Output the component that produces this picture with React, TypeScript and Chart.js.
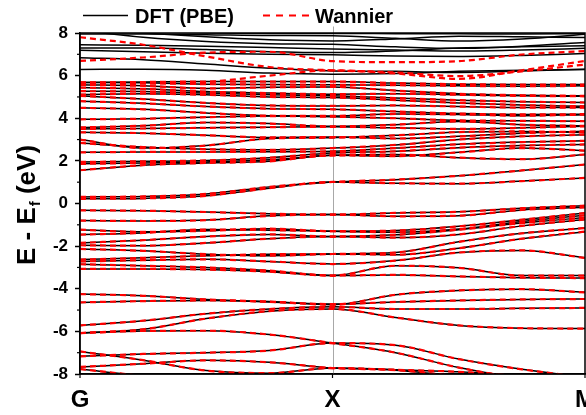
import React, { useEffect, useRef } from 'react';
import { Chart, registerables } from 'chart.js';

Chart.register(...registerables);

const FONT = "'Liberation Sans', Arial, Helvetica, sans-serif";

// k-path positions (G -> X -> M), fractional distance
const kPath = [0, 0.125, 0.25, 0.375, 0.5, 0.625, 0.75, 0.875, 1];
const kLabels = ['G', 'X', 'M'];
const kLabelPos = [0, 0.5, 1];
const legendLabels = ['DFT (PBE)', 'Wannier'];
const yMin = -8;
const yMax = 8;
const yStep = 2;
const yMinorTicks = [-7, -5, -3, -1, 1, 3, 5, 7];

// Energies (eV) at each kPath point — bands reproduced by both DFT and Wannier
const coreBands = [
  [-7.77, -8.1, -8.5, -8.8, -8.9, -8.9, -8.9, -8.9, -8.9],
  [-7.67, -7.52, -7.36, -7.45, -7.72, -7.82, -8.1, -8.4, -8.6],
  [-6.94, -7.35, -7.84, -7.96, -7.72, -7.8, -7.9, -8.1, -8.3],
  [-7.17, -7.06, -7.0, -6.9, -6.55, -6.65, -7.3, -7.78, -8.15],
  [-6.08, -5.98, -5.97, -6.15, -6.55, -7.0, -7.7, -8.2, -8.5],
  [-6.08, -5.9, -5.4, -5.05, -4.95, -5.35, -5.72, -5.85, -5.87],
  [-5.72, -5.5, -5.17, -4.95, -4.85, -4.95, -4.95, -4.92, -4.9],
  [-4.25, -4.33, -4.5, -4.62, -4.72, -4.62, -4.55, -4.5, -4.48],
  [-4.64, -4.58, -4.55, -4.6, -4.75, -4.28, -4.08, -4.02, -4.17],
];

const valenceBands = [
  [-0.32, -0.34, -0.4, -0.48, -0.52, -0.44, -0.39, -0.22, -0.1],
  [-0.8, -0.82, -0.78, -0.58, -0.52, -0.6, -0.57, -0.3, -0.18],
  [-1.23, -1.33, -1.28, -1.18, -1.3, -1.27, -1.07, -0.76, -0.45],
  [-1.46, -1.38, -1.22, -1.25, -1.3, -1.35, -1.2, -0.85, -0.55],
  [-1.85, -1.72, -1.55, -1.45, -1.55, -1.47, -1.23, -0.92, -0.66],
  [-1.96, -1.98, -1.85, -1.65, -1.55, -1.6, -1.45, -1.05, -0.75],
  [-2.13, -2.22, -2.38, -2.45, -2.37, -2.3, -1.8, -1.4, -1.15],
  [-2.63, -2.55, -2.45, -2.38, -2.37, -2.4, -2.1, -1.65, -1.32],
  [-2.72, -2.66, -2.62, -2.72, -2.84, -2.68, -2.3, -2.2, -2.55],
  [-2.85, -2.92, -3.0, -3.15, -3.38, -2.92, -3.02, -3.38, -3.38],
  [-3.07, -3.07, -3.1, -3.2, -3.38, -3.35, -3.42, -3.48, -3.5],
];

const conductionBands = [
  [0.31, 0.33, 0.45, 0.78, 1.01, 1.12, 1.3, 1.55, 1.83],
  [0.22, 0.24, 0.36, 0.72, 1.01, 0.95, 0.93, 1.05, 1.2],
  [1.56, 1.8, 1.9, 1.98, 2.26, 2.22, 2.4, 2.6, 2.48],
  [1.86, 1.9, 1.95, 2.05, 2.26, 2.3, 2.15, 2.08, 2.3],
  [1.95, 1.98, 2.02, 2.15, 2.37, 2.45, 2.62, 2.72, 2.77],
  [2.4, 2.42, 2.42, 2.43, 2.45, 2.6, 2.78, 2.88, 2.94],
];

const upperBands = [
  [3.0, 2.6, 2.72, 3.05, 3.09, 3.2, 3.35, 3.38, 3.33],
  [2.84, 2.65, 2.55, 2.52, 2.6, 2.75, 3.0, 3.15, 3.23],
  [3.34, 3.3, 3.2, 3.1, 3.12, 3.05, 3.15, 3.3, 3.39],
  [3.5, 3.52, 3.55, 3.58, 3.6, 3.55, 3.5, 3.55, 3.62],
  [3.57, 3.65, 3.8, 3.75, 3.62, 3.7, 3.85, 3.7, 3.64],
  [3.95, 3.98, 4.05, 4.1, 4.07, 4.0, 3.9, 3.88, 3.86],
  [4.49, 4.42, 4.25, 4.12, 4.11, 4.2, 4.18, 4.12, 4.17],
  [4.8, 4.7, 4.55, 4.45, 4.42, 4.32, 4.22, 4.18, 4.19],
  [5.05, 4.9, 4.72, 4.6, 4.58, 4.6, 4.55, 4.5, 4.5],
  [5.11, 5.15, 5.1, 5.0, 4.97, 4.85, 4.72, 4.62, 4.56],
  [5.27, 5.25, 5.18, 5.1, 5.05, 4.95, 4.85, 4.78, 4.74],
  [5.44, 5.38, 5.25, 5.18, 5.13, 5.15, 5.1, 5.05, 5.03],
  [5.57, 5.52, 5.4, 5.45, 5.47, 5.3, 5.15, 5.08, 5.05],
  [5.68, 5.66, 5.6, 5.58, 5.57, 5.55, 5.52, 5.5, 5.52],
  [5.68, 5.7, 5.72, 5.72, 5.72, 5.65, 5.6, 5.58, 5.58],
];

// DFT-only bands (above the Wannier window)
const dftOnlyBands = [
  [6.29, 6.3, 6.25, 6.12, 6.07, 6.1, 6.2, 6.25, 6.29],
  [6.84, 6.75, 6.55, 6.35, 6.22, 6.2, 6.15, 6.22, 6.3],
  [7.19, 7.12, 7.05, 7.0, 6.98, 6.92, 6.9, 6.95, 7.04],
  [7.3, 7.3, 7.22, 7.12, 7.08, 7.15, 7.3, 7.35, 7.4],
  [7.45, 7.42, 7.38, 7.32, 7.25, 7.2, 7.15, 7.2, 7.28],
  [8.12, 7.8, 7.6, 7.5, 7.47, 7.35, 7.28, 7.38, 7.55],
  [8.2, 8.0, 7.82, 7.68, 7.63, 7.72, 7.85, 7.82, 7.79],
  [7.95, 7.95, 7.92, 7.88, 7.87, 7.75, 7.62, 7.72, 7.94],
  [8.15, 8.05, 8.0, 7.98, 7.98, 7.97, 7.96, 7.95, 7.97],
];

// Wannier-only bands (disentangled states that deviate from DFT)
const wannierOnlyBands = [
  [7.8, 7.45, 6.9, 6.4, 6.25, 6.15, 5.98, 6.2, 6.52],
  [6.69, 6.85, 7.08, 7.12, 6.68, 6.63, 6.68, 6.99, 7.15],
  [5.6, 5.62, 5.7, 6.0, 6.25, 6.1, 5.85, 6.25, 6.69],
];

const toPoints = (band: number[]) => band.map((e, i) => ({ x: kPath[i], y: e }));

const decorPlugin = {
  id: 'decor',
  beforeDraw(chart: any) {
    const { ctx, width, height } = chart;
    ctx.save();
    ctx.fillStyle = '#ffffff';
    ctx.fillRect(0, 0, width, height);
    ctx.restore();
  },
  beforeDatasetsDraw(chart: any) {
    const { ctx, chartArea: a, scales } = chart;
    const xp = scales.x.getPixelForValue(kLabelPos[1]);
    ctx.save();
    ctx.strokeStyle = '#a8a8a8';
    ctx.lineWidth = 1;
    ctx.beginPath();
    ctx.moveTo(Math.round(xp) + 0.5, a.top - 6.5);
    ctx.lineTo(Math.round(xp) + 0.5, a.bottom);
    ctx.stroke();
    ctx.restore();
  },
  afterDraw(chart: any) {
    const { ctx, chartArea: a, scales } = chart;
    ctx.save();
    // frame
    ctx.strokeStyle = '#000';
    ctx.lineWidth = 1.5;
    ctx.setLineDash([]);
    ctx.strokeRect(a.left, a.top, a.right - a.left, a.bottom - a.top);
    // minor y ticks
    ctx.lineWidth = 1.2;
    yMinorTicks.forEach((v) => {
      const yp = scales.y.getPixelForValue(v);
      ctx.beginPath();
      ctx.moveTo(a.left - 3, yp);
      ctx.lineTo(a.left, yp);
      ctx.stroke();
    });
    // x ticks + labels
    ctx.font = `bold 24px ${FONT}`;
    ctx.fillStyle = '#000';
    ctx.textAlign = 'center';
    ctx.textBaseline = 'alphabetic';
    kLabelPos.forEach((p, i) => {
      const xp = scales.x.getPixelForValue(p);
      ctx.beginPath();
      ctx.moveTo(xp, a.bottom);
      ctx.lineTo(xp, a.bottom + 4);
      ctx.stroke();
      ctx.fillText(kLabels[i], xp, 407);
    });
    // y title with subscript
    ctx.translate(35, (a.top + a.bottom) / 2 + 2);
    ctx.rotate(-Math.PI / 2);
    ctx.textAlign = 'left';
    const t1 = 'E - E';
    const t2 = 'f';
    const t3 = ' (eV)';
    ctx.font = `bold 26px ${FONT}`;
    const w1 = ctx.measureText(t1).width;
    const w3 = ctx.measureText(t3).width;
    ctx.font = `bold 15px ${FONT}`;
    const w2 = ctx.measureText(t2).width;
    let sx = -(w1 + w2 + w3) / 2;
    ctx.font = `bold 26px ${FONT}`;
    ctx.fillText(t1, sx, 0);
    sx += w1;
    ctx.font = `bold 15px ${FONT}`;
    ctx.fillText(t2, sx + 1, 5);
    sx += w2 + 1;
    ctx.font = `bold 26px ${FONT}`;
    ctx.fillText(t3, sx, 0);
    ctx.restore();

    // legend
    ctx.save();
    ctx.font = `bold 20px ${FONT}`;
    ctx.fillStyle = '#000';
    ctx.textAlign = 'left';
    ctx.textBaseline = 'alphabetic';
    ctx.strokeStyle = '#000';
    ctx.lineWidth = 1.5;
    ctx.beginPath();
    ctx.moveTo(83, 15.5);
    ctx.lineTo(128, 15.5);
    ctx.stroke();
    ctx.fillText(legendLabels[0], 135, 23);
    ctx.strokeStyle = '#ff0000';
    ctx.lineWidth = 2;
    ctx.setLineDash([7, 6]);
    ctx.beginPath();
    ctx.moveTo(263, 15.5);
    ctx.lineTo(310, 15.5);
    ctx.stroke();
    ctx.setLineDash([]);
    ctx.fillText(legendLabels[1], 315, 23);
    ctx.restore();
  },
};

export default function App() {
  const ref = useRef<HTMLCanvasElement | null>(null);

  useEffect(() => {
    if (!ref.current) return;
    const both = [...coreBands, ...valenceBands, ...conductionBands, ...upperBands];
    const common = {
      pointRadius: 0,
      pointHoverRadius: 0,
      fill: false,
      cubicInterpolationMode: 'monotone' as const,
      clip: 0,
    };
    const wannierSets = [...both, ...wannierOnlyBands].map((b) => ({
      ...common,
      label: legendLabels[1],
      data: toPoints(b),
      borderColor: '#ff0000',
      borderWidth: 2.2,
      borderDash: [6, 4],
      order: 0,
    }));
    const dftSets = [...both, ...dftOnlyBands].map((b) => ({
      ...common,
      label: legendLabels[0],
      data: toPoints(b),
      borderColor: '#000000',
      borderWidth: 1.5,
      order: 1,
    }));

    const chart = new Chart(ref.current, {
      type: 'line',
      data: { datasets: [...wannierSets, ...dftSets] as any },
      options: {
        animation: false,
        responsive: false,
        devicePixelRatio: 1,
        layout: { padding: { top: 33, right: 1, left: 0, bottom: 0 } },
        plugins: { legend: { display: false }, tooltip: { enabled: false } },
        events: [],
        scales: {
          x: {
            type: 'linear',
            min: 0,
            max: 1,
            ticks: { display: false },
            grid: { display: false },
            border: { display: true, color: '#000', width: 1.5 },
            afterFit: (s: any) => {
              s.height = 41;
            },
          },
          y: {
            type: 'linear',
            min: yMin,
            max: yMax,
            ticks: {
              stepSize: yStep,
              color: '#000',
              padding: 7,
              font: { family: FONT, size: 17, weight: 'bold' },
            },
            grid: {
              display: true,
              drawOnChartArea: false,
              drawTicks: true,
              tickLength: 5,
              tickColor: '#000',
              tickWidth: 1.5,
            },
            border: { display: true, color: '#000', width: 1.5 },
            afterFit: (s: any) => {
              s.width = 80;
            },
          },
        },
      },
      plugins: [decorPlugin],
    });
    return () => chart.destroy();
  }, []);

  return (
    <div style={{ position: 'absolute', left: 0, top: 0, width: 586, height: 415, background: '#fff' }}>
      <canvas ref={ref} width={586} height={415} style={{ display: 'block', width: 586, height: 415 }} />
    </div>
  );
}
